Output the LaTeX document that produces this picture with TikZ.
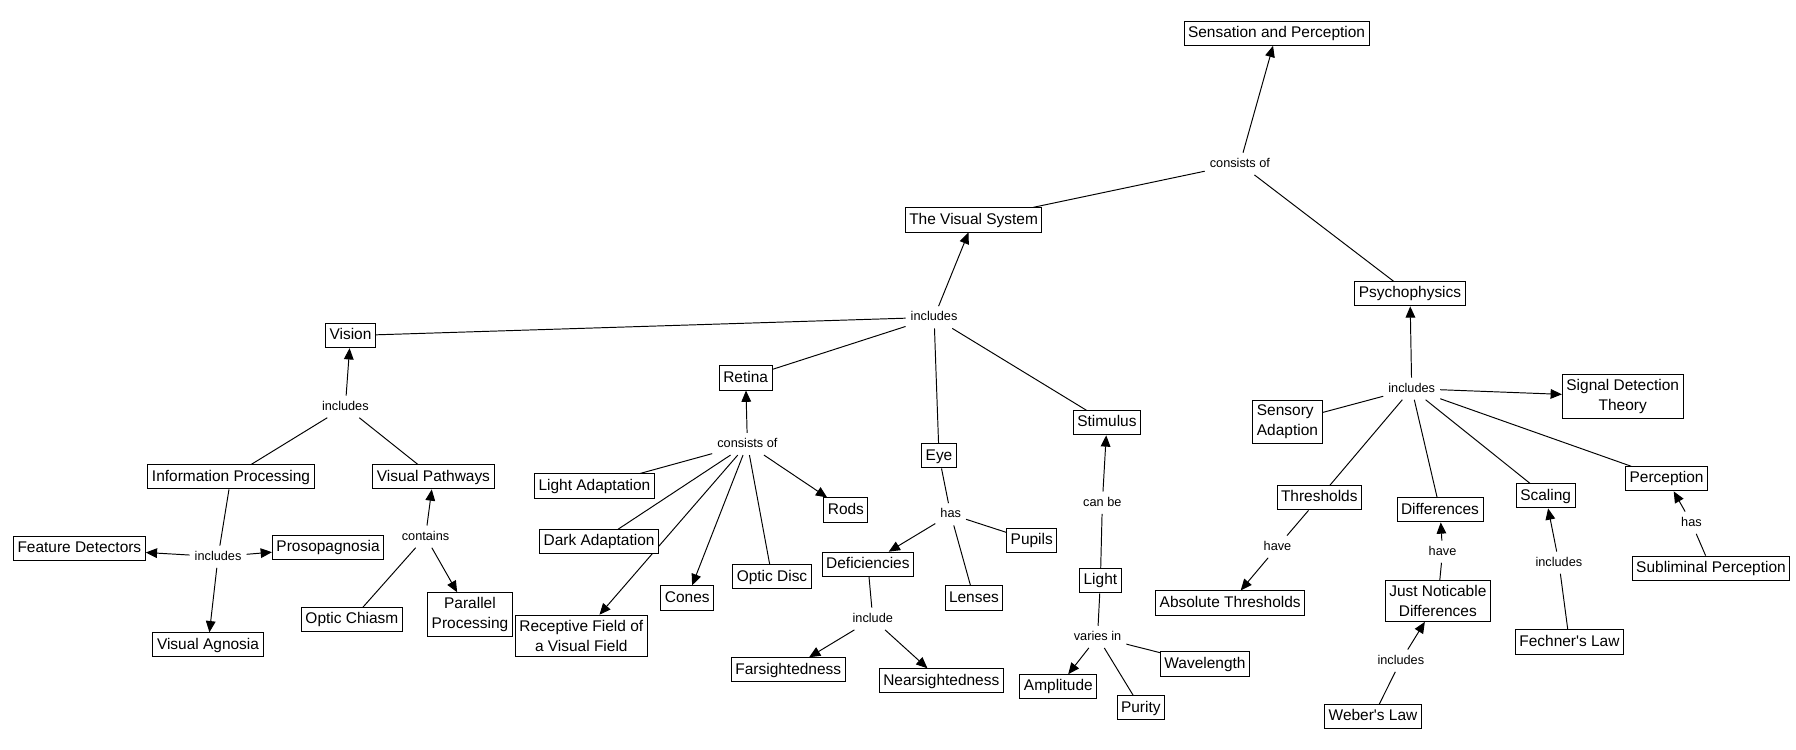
\documentclass[tikz,border=0pt]{standalone}
\usepackage{fontspec}
\setmainfont{Liberation Sans}
\usetikzlibrary{arrows.meta}
\usetikzlibrary{backgrounds}

\tikzset{
  concept/.style={draw, line width=0.6pt, fill=white, font=\fontsize{9.6}{12.4}\selectfont,
    inner xsep=2.5pt, inner ysep=2.7pt, text height=7.4pt, text depth=2.2pt},
  concepttwo/.style={draw, line width=0.6pt, fill=white, font=\fontsize{9.6}{12.4}\selectfont,
    inner xsep=2.5pt, inner ysep=3pt, align=center},
  linkword/.style={font=\fontsize{7.9}{9}\selectfont, inner xsep=3pt, inner ysep=3pt,
    text height=5.8pt, text depth=1.6pt},
  plainline/.style={line width=0.6pt},
  arrowline/.style={line width=0.6pt, -{Triangle[length=7pt,width=6pt]}}
}

\begin{document}
\begin{tikzpicture}[x=0.025cm, y=-0.025cm]
    \useasboundingbox (0,0) rectangle (1568,654);

    % top
    \node[concept] (SP) at (1114.5,29) {Sensation and Perception};
    \node[linkword] (cSP) at (1082.5,143) {consists of};
    \node[concept] (VS) at (850,192) {The Visual System};
    \node[concept] (Psy) at (1231,256.5) {Psychophysics};

    % the visual system
    \node[linkword] (iVS) at (815.5,277) {includes};
    \node[concept] (Vision) at (306,293) {Vision};
    \node[concept] (Retina) at (651,330) {Retina};
    \node[concept] (Eye) at (819.8,398) {Eye};
    \node[concept] (Stim) at (966.4,369.1) {Stimulus};

    % vision
    \node[linkword] (iV) at (301.5,355) {includes};
    \node[concept] (InfoP) at (201.7,416.3) {Information Processing};
    \node[concept] (VisP) at (378.4,416.3) {Visual Pathways};
    \node[linkword] (iIP) at (190.4,486) {includes};
    \node[concept] (FeatD) at (69.3,479) {Feature Detectors};
    \node[concept] (Prosop) at (286.4,478) {Prosopagnosia};
    \node[concept] (VisAg) at (181.6,563) {Visual Agnosia};
    \node[linkword] (cVP) at (371.5,468.5) {contains};
    \node[concept] (OptC) at (307.2,541) {Optic Chiasm};
    \node[concepttwo] (ParP) at (410.3,536.7) {Parallel\\Processing};

    % retina
    \node[linkword] (cR) at (652.5,387.6) {consists of};
    \node[concept] (LightA) at (519,424.3) {Light Adaptation};
    \node[concept] (DarkA) at (523,473) {Dark Adaptation};
    \node[concepttwo] (RecF) at (507.5,555) {Receptive Field of\\a Visual Field};
    \node[concept] (Cones) at (600,522) {Cones};
    \node[concept] (OptD) at (674,503.6) {Optic Disc};
    \node[concept] (Rods) at (738.5,445.3) {Rods};

    % eye
    \node[linkword] (hE) at (830,449) {has};
    \node[concept] (Pupils) at (900.8,472) {Pupils};
    \node[concept] (Defic) at (757.7,492.6) {Deficiencies};
    \node[concept] (Lenses) at (850.3,522) {Lenses};
    \node[linkword] (iD) at (762,540.2) {include};
    \node[concept] (Far) at (688.2,584.8) {Farsightedness};
    \node[concept] (Near) at (821.8,594.4) {Nearsightedness};

    % stimulus
    \node[linkword] (cb) at (962.4,438.9) {can be};
    \node[concept] (Light) at (960.7,507) {Light};
    \node[linkword] (vi) at (958.2,556) {varies in};
    \node[concept] (Ampl) at (924,599.6) {Amplitude};
    \node[concept] (Purity) at (996,618) {Purity};
    \node[concept] (Wave) at (1052,579.7) {Wavelength};

    % psychophysics
    \node[linkword] (iP) at (1232.5,339.3) {includes};
    \node[concepttwo] (SDT) at (1416.7,346.3) {Signal Detection\\Theory};
    \node[concepttwo, align=left] (SensA) at (1124,368.3) {Sensory\\Adaption};
    \node[concept] (Thr) at (1151.8,434.6) {Thresholds};
    \node[concept] (Diff) at (1257.2,445.1) {Differences};
    \node[concept] (Scal) at (1349.4,432.9) {Scaling};
    \node[concept] (Perc) at (1455,418) {Perception};
    \node[linkword] (hT) at (1115.3,477.3) {have};
    \node[concept] (AbsT) at (1074,526.4) {Absolute Thresholds};
    \node[linkword] (hD) at (1259.4,481.6) {have};
    \node[concepttwo] (JND) at (1255.3,524.6) {Just Noticable\\Differences};
    \node[linkword] (iW) at (1223,576.8) {includes};
    \node[concept] (Weber) at (1198.7,625.8) {Weber\textquotesingle s Law};
    \node[linkword] (iF) at (1361,491.2) {includes};
    \node[concept] (Fechner) at (1370.2,560.5) {Fechner\textquotesingle s Law};
    \node[linkword] (hP) at (1476.7,456.3) {has};
    \node[concept] (Subl) at (1493.8,496) {Subliminal Perception};

    \begin{scope}[on background layer]
    % top
    \draw[arrowline] (cSP) -- (SP);
    \draw[plainline] (VS) -- (cSP);
    \draw[plainline] (Psy) -- (cSP);

    % the visual system
    \draw[arrowline] (iVS) -- (VS);
    \draw[plainline] (iVS) -- (Vision);
    \draw[plainline] (iVS) -- (Retina);
    \draw[plainline] (iVS) -- (Eye);
    \draw[plainline] (iVS) -- (Stim);

    % vision
    \draw[arrowline] (iV) -- (Vision);
    \draw[plainline] (iV) -- (InfoP);
    \draw[plainline] (iV) -- (VisP);
    \draw[plainline] (InfoP) -- (iIP);
    \draw[arrowline] (iIP) -- (FeatD);
    \draw[arrowline] (iIP) -- (Prosop);
    \draw[arrowline] (iIP) -- (VisAg);
    \draw[arrowline] (cVP) -- (VisP);
    \draw[plainline] (OptC) -- (cVP);
    \draw[arrowline] (cVP) -- (ParP);

    % retina
    \draw[arrowline] (cR) -- (Retina);
    \draw[plainline] (cR) -- (LightA);
    \draw[plainline] (cR) -- (DarkA);
    \draw[arrowline] (cR) -- (RecF);
    \draw[arrowline] (cR) -- (Cones);
    \draw[plainline] (cR) -- (OptD);
    \draw[arrowline] (cR) -- (Rods);

    % eye
    \draw[plainline] (Eye) -- (hE);
    \draw[arrowline] (hE) -- (Defic);
    \draw[plainline] (hE) -- (Pupils);
    \draw[plainline] (hE) -- (Lenses);
    \draw[plainline] (Defic) -- (iD);
    \draw[arrowline] (iD) -- (Far);
    \draw[arrowline] (iD) -- (Near);

    % stimulus
    \draw[arrowline] (cb) -- (Stim);
    \draw[plainline] (Light) -- (cb);
    \draw[plainline] (Light) -- (vi);
    \draw[arrowline] (vi) -- (Ampl);
    \draw[plainline] (vi) -- (Purity);
    \draw[plainline] (vi) -- (Wave);

    % psychophysics
    \draw[arrowline] (iP) -- (Psy);
    \draw[arrowline] (iP) -- (SDT);
    \draw[plainline] (iP) -- (SensA);
    \draw[plainline] (iP) -- (Thr);
    \draw[plainline] (iP) -- (Diff);
    \draw[plainline] (iP) -- (Scal);
    \draw[plainline] (iP) -- (Perc);
    \draw[plainline] (Thr) -- (hT);
    \draw[arrowline] (hT) -- (AbsT);
    \draw[plainline] (JND) -- (hD);
    \draw[arrowline] (hD) -- (Diff);
    \draw[plainline] (Weber) -- (iW);
    \draw[arrowline] (iW) -- (JND);
    \draw[plainline] (Fechner) -- (iF);
    \draw[arrowline] (iF) -- (Scal);
    \draw[plainline] (Subl) -- (hP);
    \draw[arrowline] (hP) -- (Perc);
    \end{scope}
\end{tikzpicture}
\end{document}
